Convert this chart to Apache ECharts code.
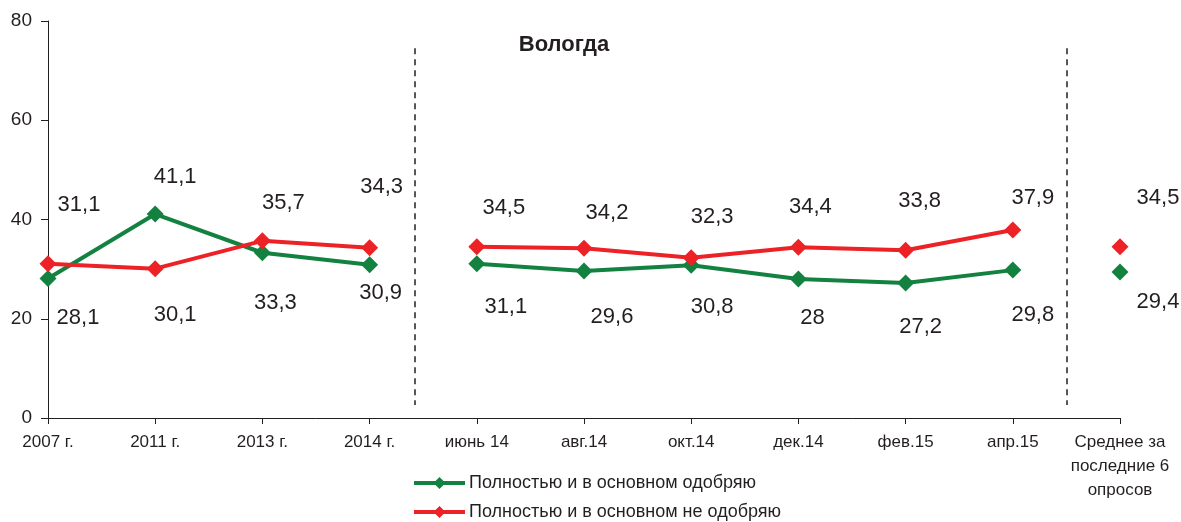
<!DOCTYPE html>
<html>
<head>
<meta charset="utf-8">
<script src="https://cdn.jsdelivr.net/npm/echarts@6/dist/echarts.min.js"></script>
<style>
  html, body { margin: 0; padding: 0; background: #fff; }
  #chart { width: 1181px; height: 522px; }
</style>
</head>
<body>
<div id="chart"></div>
<script>
// data
const categories = ['2007 г.', '2011 г.', '2013 г.', '2014 г.', 'июнь 14', 'авг.14', 'окт.14', 'дек.14', 'фев.15', 'апр.15', 'Среднее за\nпоследние 6\nопросов']
const approve = [28.1, 41.1, 33.3, 30.9, 31.1, 29.6, 30.8, 28, 27.2, 29.8, 29.4]
const disapprove = [31.1, 30.1, 35.7, 34.3, 34.5, 34.2, 32.3, 34.4, 33.8, 37.9, 34.5]
const seriesNames = ['Полностью и в основном одобряю', 'Полностью и в основном не одобряю']
const yTicks = [0, 20, 40, 60, 80]
const separators = [3.42, 9.5]
const segments = [[0, 3], [4, 9], [10, 10]]

// label offsets (px) from each marker
const approveOffsets = [[30, 39], [20, -37], [13, 50], [11, 28], [29, 43], [28, 46], [21, 42], [14, 39], [15, 44], [20, 45], [38, 30]]
const disapproveOffsets = [[31, -59], [20, 46], [21, -38], [12, -61], [27, -39], [23, -35], [21, -41], [12, -40], [14, -49], [20, -32], [38, -49]]

const textColor = '#231f20'
const font = "'Liberation Sans', Arial, sans-serif"

const buildSeries = (name, values, color, offsets) => segments.map(([a, b]) => ({
  type: 'line',
  name: name,
  data: values.map((v, i) => (i < a || i > b) ? '-' : { value: v, label: { offset: offsets[i] } }),
  symbol: 'diamond',
  symbolSize: 17,
  lineStyle: { color: color, width: 4 },
  itemStyle: { color: color },
  label: {
    show: true,
    position: 'inside',
    fontSize: 22,
    fontFamily: font,
    color: textColor,
    formatter: p => String(p.value).replace('.', ',')
  },
  emphasis: { disabled: true }
}))

const legendRow = (name, top) => ({
  data: [name],
  left: 412,
  top: top,
  padding: 0,
  itemWidth: 51,
  itemHeight: 15,
  lineStyle: { width: 4 },
  textStyle: { fontSize: 18, fontFamily: font, color: textColor, padding: [0, 0, 0, -1] }
})

const chart = echarts.init(document.getElementById('chart'))
chart.setOption({
  animation: false,
  title: {
    text: 'Вологда',
    left: 559,
    top: 29,
    textAlign: 'center',
    textStyle: { fontSize: 22, fontWeight: 'bold', fontFamily: font, color: textColor }
  },
  legend: [legendRow(seriesNames[0], 474), legendRow(seriesNames[1], 503)],
  grid: { left: 48, right: 61, top: 21, bottom: 104, containLabel: false },
  xAxis: [{
    type: 'category',
    data: categories,
    boundaryGap: false,
    axisLine: { lineStyle: { color: textColor, width: 1 } },
    axisTick: { show: true, length: 6, interval: 0, lineStyle: { color: textColor } },
    axisLabel: { interval: 0, fontSize: 17, lineHeight: 24, margin: 12, fontFamily: font, color: textColor }
  }, {
    type: 'value',
    min: 0,
    max: categories.length - 1,
    show: false
  }],
  yAxis: {
    type: 'value',
    min: yTicks[0],
    max: yTicks[yTicks.length - 1],
    interval: yTicks[1] - yTicks[0],
    axisLine: { show: true, lineStyle: { color: textColor, width: 1 } },
    axisTick: { show: true, length: 7, lineStyle: { color: textColor } },
    splitLine: { show: false },
    axisLabel: { fontSize: 19, fontFamily: font, color: textColor, margin: 16 }
  },
  series: [
    ...buildSeries(seriesNames[0], approve, '#138140', approveOffsets),
    ...buildSeries(seriesNames[1], disapprove, '#ec2227', disapproveOffsets),
    {
      type: 'line',
      xAxisIndex: 1,
      data: [],
      silent: true,
      markLine: {
        symbol: 'none',
        silent: true,
        label: { show: false },
        lineStyle: { color: textColor, type: [6, 5], width: 1.5 },
        data: separators.map(x => [{ coord: [x, 74.5] }, { coord: [x, 2.6] }])
      }
    }
  ]
})
</script>
</body>
</html>
